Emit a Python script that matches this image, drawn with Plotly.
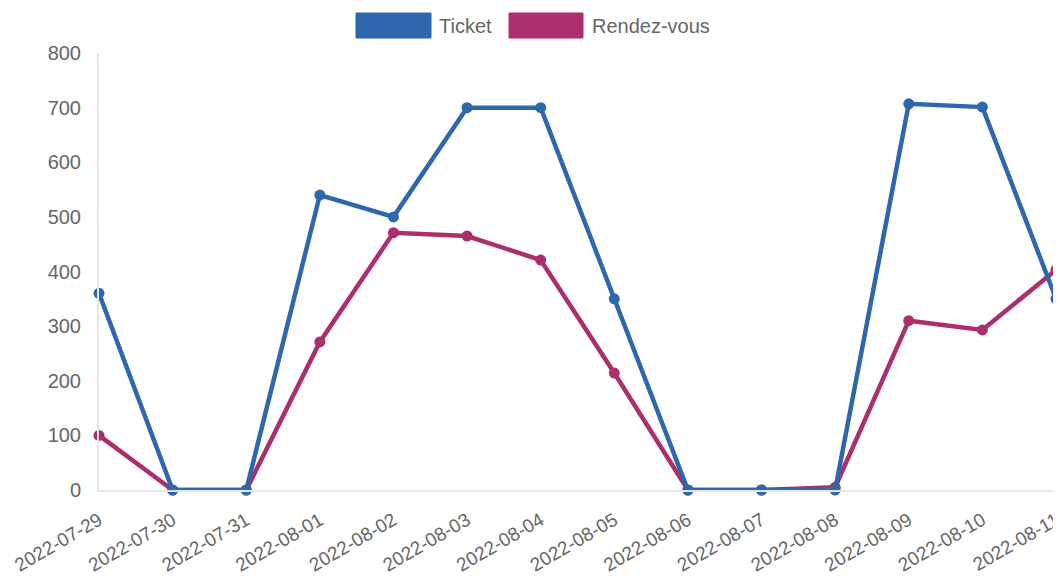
import plotly.graph_objects as go

dates = ["2022-07-29", "2022-07-30", "2022-07-31", "2022-08-01", "2022-08-02",
         "2022-08-03", "2022-08-04", "2022-08-05", "2022-08-06", "2022-08-07",
         "2022-08-08", "2022-08-09", "2022-08-10", "2022-08-11"]
ticket = [360, 0, 0, 540, 500, 700, 700, 350, 0, 0, 0, 707, 701, 350]
rendezvous = [100, 0, 0, 271, 471, 465, 421, 214, 0, 0, 5, 310, 293, 403]
y_ticks = [0, 100, 200, 300, 400, 500, 600, 700, 800]

BLUE = "#2E67AD"
MAGENTA = "#AC2E6A"
GRAY = "#666666"
FONT = "Liberation Sans, Arial, sans-serif"

# page body has 8px margin; target pixel positions below are in screenshot coords
OFF = 8
L, R, T, B = 99 - OFF, 1056 - OFF, 53 - OFF, 490 - OFF
W, H = 1061, 580

fig = go.Figure()
fig.add_trace(go.Scatter(x=dates, y=rendezvous, mode="lines+markers", name="Rendez-vous",
                         line=dict(color=MAGENTA, width=4.5), marker=dict(color=MAGENTA, size=11),
                         cliponaxis=False))
fig.add_trace(go.Scatter(x=dates, y=ticket, mode="lines+markers", name="Ticket",
                         line=dict(color=BLUE, width=4.5), marker=dict(color=BLUE, size=11),
                         cliponaxis=False))

# custom legend (Chart.js style boxes)
legend_items = [("Ticket", BLUE, 356, 431, 437), ("Rendez-vous", MAGENTA, 509, 583, 590)]
def px(x):
    return (x - OFF - L) / (R - L)
def py(y):
    return (B - (y - OFF)) / (B - T)
for label, col, x0, x1, tx in legend_items:
    fig.add_shape(type="rect", xref="paper", yref="paper",
                  x0=px(x0), x1=px(x1), y0=py(38), y1=py(13),
                  fillcolor=col, line=dict(color=col, width=1))
    fig.add_annotation(text=label, xref="paper", yref="paper",
                       x=px(tx), y=py(25.5),
                       xanchor="left", yanchor="middle", showarrow=False,
                       font=dict(size=20, color=GRAY, family=FONT))

fig.update_layout(
    width=W, height=H,
    margin=dict(l=L, r=W - R, t=T, b=H - B, autoexpand=False),
    paper_bgcolor="white", plot_bgcolor="white",
    showlegend=False,
    font=dict(family=FONT, size=19, color=GRAY),
    xaxis=dict(type="category", range=[0, len(dates) - 1], showgrid=False,
               showline=True, linecolor="#e6e6e6", linewidth=2, zeroline=False,
               tickangle=-30, ticks="", automargin=False, ticklabelstandoff=10,
               tickfont=dict(size=19, color=GRAY, family=FONT)),
    yaxis=dict(range=[0, 800], tickvals=y_ticks, showgrid=False, zeroline=False,
               showline=True, linecolor="#e6e6e6", linewidth=2, ticks="", automargin=False,
               ticklabelstandoff=12, tickfont=dict(size=20, color=GRAY, family=FONT)),
)

fig.write_html("out.html")
